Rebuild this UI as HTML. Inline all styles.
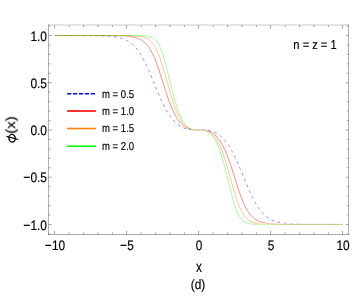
<!DOCTYPE html>
<html><head><meta charset="utf-8"><title>plot</title>
<style>
html,body{margin:0;padding:0;background:#fff;}
body{width:354px;height:300px;position:relative;overflow:hidden;font-family:"Liberation Sans",sans-serif;color:#000;}
.t{position:absolute;white-space:nowrap;line-height:1;will-change:transform;text-rendering:geometricPrecision;-webkit-text-stroke:1.8px #000;}
</style></head><body>
<svg width="354" height="300" viewBox="0 0 354 300" style="position:absolute;left:0;top:0">
<path d="M54.50 35.50 L55.22 35.50 L55.94 35.50 L56.66 35.50 L57.38 35.50 L58.10 35.50 L58.82 35.50 L59.54 35.50 L60.26 35.50 L60.98 35.50 L61.70 35.50 L62.42 35.50 L63.14 35.50 L63.86 35.50 L64.58 35.51 L65.30 35.51 L66.02 35.51 L66.74 35.51 L67.46 35.51 L68.18 35.51 L68.90 35.51 L69.62 35.51 L70.34 35.51 L71.06 35.51 L71.78 35.51 L72.50 35.51 L73.22 35.51 L73.94 35.51 L74.66 35.52 L75.38 35.52 L76.10 35.52 L76.82 35.52 L77.54 35.52 L78.26 35.52 L78.98 35.53 L79.70 35.53 L80.42 35.53 L81.14 35.53 L81.86 35.54 L82.58 35.54 L83.30 35.54 L84.02 35.54 L84.74 35.55 L85.46 35.55 L86.18 35.56 L86.90 35.56 L87.62 35.57 L88.34 35.57 L89.06 35.58 L89.78 35.59 L90.50 35.59 L91.22 35.60 L91.94 35.61 L92.66 35.62 L93.38 35.63 L94.10 35.64 L94.82 35.65 L95.54 35.66 L96.26 35.68 L96.98 35.69 L97.70 35.71 L98.42 35.73 L99.14 35.75 L99.86 35.77 L100.58 35.79 L101.30 35.81 L102.02 35.84 L102.74 35.87 L103.46 35.90 L104.18 35.93 L104.90 35.97 L105.62 36.00 L106.34 36.05 L107.06 36.09 L107.78 36.14 L108.50 36.19 L109.22 36.25 L109.94 36.31 L110.66 36.38 L111.38 36.45 L112.10 36.53 L112.82 36.62 L113.54 36.71 L114.26 36.81 L114.98 36.92 L115.70 37.03 L116.42 37.16 L117.14 37.29 L117.86 37.44 L118.58 37.60 L119.30 37.76 L120.02 37.95 L120.74 38.14 L121.46 38.36 L122.18 38.58 L122.90 38.83 L123.62 39.09 L124.34 39.38 L125.06 39.68 L125.78 40.01 L126.50 40.36 L127.22 40.73 L127.94 41.14 L128.66 41.57 L129.38 42.03 L130.10 42.52 L130.82 43.05 L131.54 43.61 L132.26 44.21 L132.98 44.84 L133.70 45.52 L134.42 46.23 L135.14 47.00 L135.86 47.80 L136.58 48.65 L137.30 49.55 L138.02 50.50 L138.74 51.49 L139.46 52.54 L140.18 53.64 L140.90 54.79 L141.62 55.99 L142.34 57.24 L143.06 58.54 L143.78 59.89 L144.50 61.28 L145.22 62.73 L145.94 64.22 L146.66 65.75 L147.38 67.32 L148.10 68.93 L148.82 70.57 L149.54 72.24 L150.26 73.94 L150.98 75.66 L151.70 77.40 L152.42 79.15 L153.14 80.91 L153.86 82.68 L154.58 84.44 L155.30 86.21 L156.02 87.96 L156.74 89.70 L157.46 91.43 L158.18 93.14 L158.90 94.82 L159.62 96.48 L160.34 98.11 L161.06 99.70 L161.78 101.26 L162.50 102.78 L163.22 104.26 L163.94 105.70 L164.66 107.09 L165.38 108.44 L166.10 109.75 L166.82 111.01 L167.54 112.22 L168.26 113.38 L168.98 114.50 L169.70 115.57 L170.42 116.59 L171.14 117.57 L171.86 118.50 L172.58 119.39 L173.30 120.23 L174.02 121.02 L174.74 121.77 L175.46 122.48 L176.18 123.15 L176.90 123.78 L177.62 124.37 L178.34 124.92 L179.06 125.43 L179.78 125.91 L180.50 126.35 L181.22 126.76 L181.94 127.14 L182.66 127.49 L183.38 127.81 L184.10 128.10 L184.82 128.36 L185.54 128.59 L186.26 128.81 L186.98 129.00 L187.70 129.16 L188.42 129.31 L189.14 129.44 L189.86 129.55 L190.58 129.64 L191.30 129.72 L192.02 129.79 L192.74 129.84 L193.46 129.88 L194.18 129.91 L194.90 129.93 L195.62 129.95 L196.34 129.96 L197.06 129.97 L197.78 129.97 L198.50 129.97 L199.22 129.97 L199.94 129.97 L200.66 129.97 L201.38 129.98 L202.10 129.99 L202.82 130.01 L203.54 130.03 L204.26 130.07 L204.98 130.11 L205.70 130.16 L206.42 130.23 L207.14 130.31 L207.86 130.41 L208.58 130.52 L209.30 130.65 L210.02 130.80 L210.74 130.97 L211.46 131.17 L212.18 131.38 L212.90 131.62 L213.62 131.89 L214.34 132.18 L215.06 132.51 L215.78 132.86 L216.50 133.24 L217.22 133.66 L217.94 134.11 L218.66 134.59 L219.38 135.11 L220.10 135.67 L220.82 136.26 L221.54 136.90 L222.26 137.57 L222.98 138.29 L223.70 139.05 L224.42 139.85 L225.14 140.70 L225.86 141.59 L226.58 142.53 L227.30 143.51 L228.02 144.54 L228.74 145.62 L229.46 146.75 L230.18 147.92 L230.90 149.14 L231.62 150.41 L232.34 151.72 L233.06 153.08 L233.78 154.48 L234.50 155.93 L235.22 157.41 L235.94 158.94 L236.66 160.50 L237.38 162.10 L238.10 163.73 L238.82 165.40 L239.54 167.08 L240.26 168.79 L240.98 170.52 L241.70 172.27 L242.42 174.03 L243.14 175.79 L243.86 177.56 L244.58 179.33 L245.30 181.09 L246.02 182.84 L246.74 184.57 L247.46 186.29 L248.18 187.98 L248.90 189.65 L249.62 191.28 L250.34 192.88 L251.06 194.45 L251.78 195.97 L252.50 197.45 L253.22 198.89 L253.94 200.28 L254.66 201.62 L255.38 202.92 L256.10 204.16 L256.82 205.35 L257.54 206.49 L258.26 207.58 L258.98 208.62 L259.70 209.60 L260.42 210.54 L261.14 211.43 L261.86 212.28 L262.58 213.07 L263.30 213.83 L264.02 214.54 L264.74 215.21 L265.46 215.84 L266.18 216.43 L266.90 216.98 L267.62 217.50 L268.34 217.99 L269.06 218.45 L269.78 218.87 L270.50 219.27 L271.22 219.64 L271.94 219.99 L272.66 220.31 L273.38 220.61 L274.10 220.89 L274.82 221.15 L275.54 221.40 L276.26 221.62 L276.98 221.83 L277.70 222.02 L278.42 222.20 L279.14 222.37 L279.86 222.53 L280.58 222.67 L281.30 222.80 L282.02 222.93 L282.74 223.04 L283.46 223.15 L284.18 223.25 L284.90 223.34 L285.62 223.42 L286.34 223.50 L287.06 223.57 L287.78 223.64 L288.50 223.70 L289.22 223.75 L289.94 223.81 L290.66 223.86 L291.38 223.90 L292.10 223.94 L292.82 223.98 L293.54 224.02 L294.26 224.05 L294.98 224.08 L295.70 224.11 L296.42 224.13 L297.14 224.16 L297.86 224.18 L298.58 224.20 L299.30 224.22 L300.02 224.23 L300.74 224.25 L301.46 224.26 L302.18 224.28 L302.90 224.29 L303.62 224.30 L304.34 224.31 L305.06 224.32 L305.78 224.33 L306.50 224.34 L307.22 224.35 L307.94 224.36 L308.66 224.36 L309.38 224.37 L310.10 224.37 L310.82 224.38 L311.54 224.38 L312.26 224.39 L312.98 224.39 L313.70 224.40 L314.42 224.40 L315.14 224.40 L315.86 224.41 L316.58 224.41 L317.30 224.41 L318.02 224.41 L318.74 224.41 L319.46 224.42 L320.18 224.42 L320.90 224.42 L321.62 224.42 L322.34 224.42 L323.06 224.42 L323.78 224.43 L324.50 224.43 L325.22 224.43 L325.94 224.43 L326.66 224.43 L327.38 224.43 L328.10 224.43 L328.82 224.43 L329.54 224.43 L330.26 224.43 L330.98 224.43 L331.70 224.43 L332.42 224.43 L333.14 224.44 L333.86 224.44 L334.58 224.44 L335.30 224.44 L336.02 224.44 L336.74 224.44 L337.46 224.44 L338.18 224.44 L338.90 224.44 L339.62 224.44 L340.34 224.44 L341.06 224.44 L341.78 224.44 L342.50 224.44" fill="none" stroke="#0000ff" stroke-width="0.46" stroke-dasharray="2.8 3.5" stroke-dashoffset="-2.8"/>
<path d="M54.50 35.50 L55.22 35.50 L55.94 35.50 L56.66 35.50 L57.38 35.50 L58.10 35.50 L58.82 35.50 L59.54 35.50 L60.26 35.50 L60.98 35.50 L61.70 35.50 L62.42 35.50 L63.14 35.50 L63.86 35.50 L64.58 35.50 L65.30 35.50 L66.02 35.50 L66.74 35.50 L67.46 35.50 L68.18 35.50 L68.90 35.50 L69.62 35.50 L70.34 35.50 L71.06 35.50 L71.78 35.50 L72.50 35.50 L73.22 35.50 L73.94 35.50 L74.66 35.50 L75.38 35.50 L76.10 35.50 L76.82 35.50 L77.54 35.50 L78.26 35.50 L78.98 35.50 L79.70 35.50 L80.42 35.50 L81.14 35.50 L81.86 35.50 L82.58 35.50 L83.30 35.50 L84.02 35.50 L84.74 35.50 L85.46 35.50 L86.18 35.50 L86.90 35.50 L87.62 35.50 L88.34 35.50 L89.06 35.50 L89.78 35.50 L90.50 35.51 L91.22 35.51 L91.94 35.51 L92.66 35.51 L93.38 35.51 L94.10 35.51 L94.82 35.51 L95.54 35.51 L96.26 35.51 L96.98 35.51 L97.70 35.51 L98.42 35.52 L99.14 35.52 L99.86 35.52 L100.58 35.52 L101.30 35.52 L102.02 35.52 L102.74 35.53 L103.46 35.53 L104.18 35.53 L104.90 35.54 L105.62 35.54 L106.34 35.54 L107.06 35.55 L107.78 35.55 L108.50 35.56 L109.22 35.56 L109.94 35.57 L110.66 35.58 L111.38 35.59 L112.10 35.59 L112.82 35.60 L113.54 35.61 L114.26 35.63 L114.98 35.64 L115.70 35.65 L116.42 35.67 L117.14 35.68 L117.86 35.70 L118.58 35.72 L119.30 35.75 L120.02 35.77 L120.74 35.80 L121.46 35.83 L122.18 35.86 L122.90 35.90 L123.62 35.94 L124.34 35.98 L125.06 36.03 L125.78 36.09 L126.50 36.15 L127.22 36.21 L127.94 36.28 L128.66 36.36 L129.38 36.45 L130.10 36.54 L130.82 36.65 L131.54 36.76 L132.26 36.89 L132.98 37.03 L133.70 37.18 L134.42 37.35 L135.14 37.54 L135.86 37.74 L136.58 37.96 L137.30 38.21 L138.02 38.47 L138.74 38.77 L139.46 39.09 L140.18 39.44 L140.90 39.83 L141.62 40.25 L142.34 40.72 L143.06 41.22 L143.78 41.77 L144.50 42.38 L145.22 43.03 L145.94 43.74 L146.66 44.52 L147.38 45.36 L148.10 46.27 L148.82 47.25 L149.54 48.31 L150.26 49.45 L150.98 50.68 L151.70 51.99 L152.42 53.40 L153.14 54.89 L153.86 56.47 L154.58 58.14 L155.30 59.91 L156.02 61.75 L156.74 63.68 L157.46 65.68 L158.18 67.75 L158.90 69.89 L159.62 72.07 L160.34 74.30 L161.06 76.56 L161.78 78.84 L162.50 81.14 L163.22 83.43 L163.94 85.72 L164.66 87.99 L165.38 90.24 L166.10 92.44 L166.82 94.61 L167.54 96.73 L168.26 98.79 L168.98 100.79 L169.70 102.72 L170.42 104.59 L171.14 106.39 L171.86 108.11 L172.58 109.76 L173.30 111.34 L174.02 112.83 L174.74 114.26 L175.46 115.60 L176.18 116.87 L176.90 118.07 L177.62 119.20 L178.34 120.25 L179.06 121.23 L179.78 122.15 L180.50 123.00 L181.22 123.79 L181.94 124.52 L182.66 125.19 L183.38 125.80 L184.10 126.35 L184.82 126.86 L185.54 127.32 L186.26 127.72 L186.98 128.09 L187.70 128.41 L188.42 128.70 L189.14 128.94 L189.86 129.16 L190.58 129.34 L191.30 129.49 L192.02 129.62 L192.74 129.72 L193.46 129.80 L194.18 129.86 L194.90 129.90 L195.62 129.93 L196.34 129.95 L197.06 129.96 L197.78 129.97 L198.50 129.97 L199.22 129.97 L199.94 129.97 L200.66 129.98 L201.38 129.99 L202.10 130.01 L202.82 130.04 L203.54 130.09 L204.26 130.16 L204.98 130.24 L205.70 130.34 L206.42 130.47 L207.14 130.63 L207.86 130.82 L208.58 131.04 L209.30 131.29 L210.02 131.58 L210.74 131.91 L211.46 132.28 L212.18 132.70 L212.90 133.16 L213.62 133.68 L214.34 134.24 L215.06 134.86 L215.78 135.54 L216.50 136.28 L217.22 137.07 L217.94 137.94 L218.66 138.87 L219.38 139.86 L220.10 140.93 L220.82 142.06 L221.54 143.27 L222.26 144.56 L222.98 145.92 L223.70 147.35 L224.42 148.86 L225.14 150.45 L225.86 152.11 L226.58 153.85 L227.30 155.65 L228.02 157.53 L228.74 159.48 L229.46 161.49 L230.18 163.56 L230.90 165.69 L231.62 167.86 L232.34 170.08 L233.06 172.32 L233.78 174.60 L234.50 176.89 L235.22 179.19 L235.94 181.48 L236.66 183.76 L237.38 186.02 L238.10 188.24 L238.82 190.41 L239.54 192.54 L240.26 194.60 L240.98 196.59 L241.70 198.50 L242.42 200.33 L243.14 202.08 L243.86 203.74 L244.58 205.31 L245.30 206.78 L246.02 208.17 L246.74 209.47 L247.46 210.68 L248.18 211.81 L248.90 212.86 L249.62 213.83 L250.34 214.73 L251.06 215.56 L251.78 216.32 L252.50 217.02 L253.22 217.67 L253.94 218.26 L254.66 218.81 L255.38 219.30 L256.10 219.76 L256.82 220.18 L257.54 220.56 L258.26 220.91 L258.98 221.22 L259.70 221.51 L260.42 221.78 L261.14 222.02 L261.86 222.24 L262.58 222.44 L263.30 222.62 L264.02 222.78 L264.74 222.93 L265.46 223.07 L266.18 223.20 L266.90 223.31 L267.62 223.41 L268.34 223.51 L269.06 223.59 L269.78 223.67 L270.50 223.74 L271.22 223.80 L271.94 223.86 L272.66 223.92 L273.38 223.96 L274.10 224.01 L274.82 224.05 L275.54 224.08 L276.26 224.12 L276.98 224.15 L277.70 224.17 L278.42 224.20 L279.14 224.22 L279.86 224.24 L280.58 224.26 L281.30 224.28 L282.02 224.29 L282.74 224.30 L283.46 224.32 L284.18 224.33 L284.90 224.34 L285.62 224.35 L286.34 224.36 L287.06 224.36 L287.78 224.37 L288.50 224.38 L289.22 224.38 L289.94 224.39 L290.66 224.39 L291.38 224.40 L292.10 224.40 L292.82 224.40 L293.54 224.41 L294.26 224.41 L294.98 224.41 L295.70 224.42 L296.42 224.42 L297.14 224.42 L297.86 224.42 L298.58 224.42 L299.30 224.43 L300.02 224.43 L300.74 224.43 L301.46 224.43 L302.18 224.43 L302.90 224.43 L303.62 224.43 L304.34 224.43 L305.06 224.43 L305.78 224.43 L306.50 224.43 L307.22 224.43 L307.94 224.44 L308.66 224.44 L309.38 224.44 L310.10 224.44 L310.82 224.44 L311.54 224.44 L312.26 224.44 L312.98 224.44 L313.70 224.44 L314.42 224.44 L315.14 224.44 L315.86 224.44 L316.58 224.44 L317.30 224.44 L318.02 224.44 L318.74 224.44 L319.46 224.44 L320.18 224.44 L320.90 224.44 L321.62 224.44 L322.34 224.44 L323.06 224.44 L323.78 224.44 L324.50 224.44 L325.22 224.44 L325.94 224.44 L326.66 224.44 L327.38 224.44 L328.10 224.44 L328.82 224.44 L329.54 224.44 L330.26 224.44 L330.98 224.44 L331.70 224.44 L332.42 224.44 L333.14 224.44 L333.86 224.44 L334.58 224.44 L335.30 224.44 L336.02 224.44 L336.74 224.44 L337.46 224.44 L338.18 224.44 L338.90 224.44 L339.62 224.44 L340.34 224.44 L341.06 224.44 L341.78 224.44 L342.50 224.44" fill="none" stroke="#ff0000" stroke-width="0.46"/>
<path d="M54.50 35.50 L55.22 35.50 L55.94 35.50 L56.66 35.50 L57.38 35.50 L58.10 35.50 L58.82 35.50 L59.54 35.50 L60.26 35.50 L60.98 35.50 L61.70 35.50 L62.42 35.50 L63.14 35.50 L63.86 35.50 L64.58 35.50 L65.30 35.50 L66.02 35.50 L66.74 35.50 L67.46 35.50 L68.18 35.50 L68.90 35.50 L69.62 35.50 L70.34 35.50 L71.06 35.50 L71.78 35.50 L72.50 35.50 L73.22 35.50 L73.94 35.50 L74.66 35.50 L75.38 35.50 L76.10 35.50 L76.82 35.50 L77.54 35.50 L78.26 35.50 L78.98 35.50 L79.70 35.50 L80.42 35.50 L81.14 35.50 L81.86 35.50 L82.58 35.50 L83.30 35.50 L84.02 35.50 L84.74 35.50 L85.46 35.50 L86.18 35.50 L86.90 35.50 L87.62 35.50 L88.34 35.50 L89.06 35.50 L89.78 35.50 L90.50 35.50 L91.22 35.50 L91.94 35.50 L92.66 35.50 L93.38 35.50 L94.10 35.50 L94.82 35.50 L95.54 35.50 L96.26 35.50 L96.98 35.50 L97.70 35.50 L98.42 35.50 L99.14 35.50 L99.86 35.50 L100.58 35.50 L101.30 35.50 L102.02 35.50 L102.74 35.50 L103.46 35.50 L104.18 35.50 L104.90 35.50 L105.62 35.50 L106.34 35.50 L107.06 35.50 L107.78 35.50 L108.50 35.50 L109.22 35.50 L109.94 35.50 L110.66 35.50 L111.38 35.50 L112.10 35.50 L112.82 35.51 L113.54 35.51 L114.26 35.51 L114.98 35.51 L115.70 35.51 L116.42 35.51 L117.14 35.51 L117.86 35.51 L118.58 35.52 L119.30 35.52 L120.02 35.52 L120.74 35.53 L121.46 35.53 L122.18 35.53 L122.90 35.54 L123.62 35.54 L124.34 35.55 L125.06 35.56 L125.78 35.57 L126.50 35.57 L127.22 35.59 L127.94 35.60 L128.66 35.61 L129.38 35.63 L130.10 35.65 L130.82 35.67 L131.54 35.69 L132.26 35.72 L132.98 35.75 L133.70 35.79 L134.42 35.83 L135.14 35.87 L135.86 35.93 L136.58 35.99 L137.30 36.05 L138.02 36.13 L138.74 36.22 L139.46 36.32 L140.18 36.44 L140.90 36.57 L141.62 36.71 L142.34 36.88 L143.06 37.07 L143.78 37.29 L144.50 37.53 L145.22 37.80 L145.94 38.11 L146.66 38.46 L147.38 38.85 L148.10 39.28 L148.82 39.77 L149.54 40.32 L150.26 40.93 L150.98 41.61 L151.70 42.36 L152.42 43.19 L153.14 44.11 L153.86 45.12 L154.58 46.22 L155.30 47.43 L156.02 48.75 L156.74 50.17 L157.46 51.70 L158.18 53.35 L158.90 55.11 L159.62 56.98 L160.34 58.96 L161.06 61.05 L161.78 63.23 L162.50 65.51 L163.22 67.86 L163.94 70.28 L164.66 72.77 L165.38 75.30 L166.10 77.86 L166.82 80.44 L167.54 83.03 L168.26 85.61 L168.98 88.16 L169.70 90.69 L170.42 93.17 L171.14 95.60 L171.86 97.96 L172.58 100.25 L173.30 102.47 L174.02 104.59 L174.74 106.63 L175.46 108.58 L176.18 110.43 L176.90 112.18 L177.62 113.84 L178.34 115.40 L179.06 116.86 L179.78 118.22 L180.50 119.49 L181.22 120.67 L181.94 121.76 L182.66 122.76 L183.38 123.68 L184.10 124.52 L184.82 125.28 L185.54 125.97 L186.26 126.58 L186.98 127.13 L187.70 127.62 L188.42 128.05 L189.14 128.42 L189.86 128.74 L190.58 129.02 L191.30 129.25 L192.02 129.43 L192.74 129.59 L193.46 129.71 L194.18 129.80 L194.90 129.87 L195.62 129.91 L196.34 129.94 L197.06 129.96 L197.78 129.97 L198.50 129.97 L199.22 129.97 L199.94 129.97 L200.66 129.98 L201.38 130.00 L202.10 130.03 L202.82 130.08 L203.54 130.15 L204.26 130.25 L204.98 130.38 L205.70 130.53 L206.42 130.73 L207.14 130.97 L207.86 131.25 L208.58 131.58 L209.30 131.96 L210.02 132.40 L210.74 132.89 L211.46 133.45 L212.18 134.08 L212.90 134.78 L213.62 135.55 L214.34 136.41 L215.06 137.34 L215.78 138.35 L216.50 139.46 L217.22 140.65 L217.94 141.94 L218.66 143.32 L219.38 144.80 L220.10 146.37 L220.82 148.04 L221.54 149.81 L222.26 151.68 L222.98 153.64 L223.70 155.69 L224.42 157.84 L225.14 160.06 L225.86 162.37 L226.58 164.74 L227.30 167.18 L228.02 169.67 L228.74 172.20 L229.46 174.76 L230.18 177.34 L230.90 179.93 L231.62 182.51 L232.34 185.07 L233.06 187.59 L233.78 190.06 L234.50 192.48 L235.22 194.82 L235.94 197.08 L236.66 199.25 L237.38 201.31 L238.10 203.28 L238.82 205.13 L239.54 206.87 L240.26 208.50 L240.98 210.02 L241.70 211.42 L242.42 212.72 L243.14 213.91 L243.86 215.00 L244.58 215.99 L245.30 216.89 L246.02 217.71 L246.74 218.45 L247.46 219.12 L248.18 219.72 L248.90 220.25 L249.62 220.73 L250.34 221.16 L251.06 221.54 L251.78 221.88 L252.50 222.19 L253.22 222.45 L253.94 222.69 L254.66 222.90 L255.38 223.09 L256.10 223.25 L256.82 223.40 L257.54 223.52 L258.26 223.64 L258.98 223.73 L259.70 223.82 L260.42 223.90 L261.14 223.96 L261.86 224.02 L262.58 224.08 L263.30 224.12 L264.02 224.16 L264.74 224.20 L265.46 224.23 L266.18 224.25 L266.90 224.28 L267.62 224.30 L268.34 224.31 L269.06 224.33 L269.78 224.34 L270.50 224.36 L271.22 224.37 L271.94 224.38 L272.66 224.38 L273.38 224.39 L274.10 224.40 L274.82 224.40 L275.54 224.41 L276.26 224.41 L276.98 224.42 L277.70 224.42 L278.42 224.42 L279.14 224.42 L279.86 224.43 L280.58 224.43 L281.30 224.43 L282.02 224.43 L282.74 224.43 L283.46 224.43 L284.18 224.43 L284.90 224.43 L285.62 224.44 L286.34 224.44 L287.06 224.44 L287.78 224.44 L288.50 224.44 L289.22 224.44 L289.94 224.44 L290.66 224.44 L291.38 224.44 L292.10 224.44 L292.82 224.44 L293.54 224.44 L294.26 224.44 L294.98 224.44 L295.70 224.44 L296.42 224.44 L297.14 224.44 L297.86 224.44 L298.58 224.44 L299.30 224.44 L300.02 224.44 L300.74 224.44 L301.46 224.44 L302.18 224.44 L302.90 224.44 L303.62 224.44 L304.34 224.44 L305.06 224.44 L305.78 224.44 L306.50 224.44 L307.22 224.44 L307.94 224.44 L308.66 224.44 L309.38 224.44 L310.10 224.44 L310.82 224.44 L311.54 224.44 L312.26 224.44 L312.98 224.44 L313.70 224.44 L314.42 224.44 L315.14 224.44 L315.86 224.44 L316.58 224.44 L317.30 224.44 L318.02 224.44 L318.74 224.44 L319.46 224.44 L320.18 224.44 L320.90 224.44 L321.62 224.44 L322.34 224.44 L323.06 224.44 L323.78 224.44 L324.50 224.44 L325.22 224.44 L325.94 224.44 L326.66 224.44 L327.38 224.44 L328.10 224.44 L328.82 224.44 L329.54 224.44 L330.26 224.44 L330.98 224.44 L331.70 224.44 L332.42 224.44 L333.14 224.44 L333.86 224.44 L334.58 224.44 L335.30 224.44 L336.02 224.44 L336.74 224.44 L337.46 224.44 L338.18 224.44 L338.90 224.44 L339.62 224.44 L340.34 224.44 L341.06 224.44 L341.78 224.44 L342.50 224.44" fill="none" stroke="#ff8000" stroke-width="0.46"/>
<path d="M54.50 35.50 L55.22 35.50 L55.94 35.50 L56.66 35.50 L57.38 35.50 L58.10 35.50 L58.82 35.50 L59.54 35.50 L60.26 35.50 L60.98 35.50 L61.70 35.50 L62.42 35.50 L63.14 35.50 L63.86 35.50 L64.58 35.50 L65.30 35.50 L66.02 35.50 L66.74 35.50 L67.46 35.50 L68.18 35.50 L68.90 35.50 L69.62 35.50 L70.34 35.50 L71.06 35.50 L71.78 35.50 L72.50 35.50 L73.22 35.50 L73.94 35.50 L74.66 35.50 L75.38 35.50 L76.10 35.50 L76.82 35.50 L77.54 35.50 L78.26 35.50 L78.98 35.50 L79.70 35.50 L80.42 35.50 L81.14 35.50 L81.86 35.50 L82.58 35.50 L83.30 35.50 L84.02 35.50 L84.74 35.50 L85.46 35.50 L86.18 35.50 L86.90 35.50 L87.62 35.50 L88.34 35.50 L89.06 35.50 L89.78 35.50 L90.50 35.50 L91.22 35.50 L91.94 35.50 L92.66 35.50 L93.38 35.50 L94.10 35.50 L94.82 35.50 L95.54 35.50 L96.26 35.50 L96.98 35.50 L97.70 35.50 L98.42 35.50 L99.14 35.50 L99.86 35.50 L100.58 35.50 L101.30 35.50 L102.02 35.50 L102.74 35.50 L103.46 35.50 L104.18 35.50 L104.90 35.50 L105.62 35.50 L106.34 35.50 L107.06 35.50 L107.78 35.50 L108.50 35.50 L109.22 35.50 L109.94 35.50 L110.66 35.50 L111.38 35.50 L112.10 35.50 L112.82 35.50 L113.54 35.50 L114.26 35.50 L114.98 35.50 L115.70 35.50 L116.42 35.50 L117.14 35.50 L117.86 35.50 L118.58 35.50 L119.30 35.50 L120.02 35.50 L120.74 35.50 L121.46 35.50 L122.18 35.50 L122.90 35.50 L123.62 35.50 L124.34 35.50 L125.06 35.50 L125.78 35.50 L126.50 35.50 L127.22 35.50 L127.94 35.50 L128.66 35.50 L129.38 35.51 L130.10 35.51 L130.82 35.51 L131.54 35.51 L132.26 35.51 L132.98 35.51 L133.70 35.52 L134.42 35.52 L135.14 35.52 L135.86 35.53 L136.58 35.54 L137.30 35.54 L138.02 35.55 L138.74 35.56 L139.46 35.58 L140.18 35.59 L140.90 35.61 L141.62 35.64 L142.34 35.66 L143.06 35.70 L143.78 35.74 L144.50 35.79 L145.22 35.85 L145.94 35.92 L146.66 36.01 L147.38 36.11 L148.10 36.24 L148.82 36.39 L149.54 36.56 L150.26 36.77 L150.98 37.03 L151.70 37.32 L152.42 37.67 L153.14 38.09 L153.86 38.57 L154.58 39.14 L155.30 39.80 L156.02 40.55 L156.74 41.43 L157.46 42.42 L158.18 43.55 L158.90 44.82 L159.62 46.24 L160.34 47.81 L161.06 49.55 L161.78 51.44 L162.50 53.49 L163.22 55.70 L163.94 58.05 L164.66 60.53 L165.38 63.14 L166.10 65.85 L166.82 68.65 L167.54 71.51 L168.26 74.43 L168.98 77.38 L169.70 80.33 L170.42 83.28 L171.14 86.20 L171.86 89.08 L172.58 91.89 L173.30 94.64 L174.02 97.30 L174.74 99.86 L175.46 102.32 L176.18 104.68 L176.90 106.92 L177.62 109.04 L178.34 111.05 L179.06 112.93 L179.78 114.69 L180.50 116.34 L181.22 117.87 L181.94 119.28 L182.66 120.58 L183.38 121.78 L184.10 122.87 L184.82 123.86 L185.54 124.75 L186.26 125.56 L186.98 126.27 L187.70 126.91 L188.42 127.47 L189.14 127.95 L189.86 128.37 L190.58 128.73 L191.30 129.03 L192.02 129.27 L192.74 129.47 L193.46 129.63 L194.18 129.75 L194.90 129.84 L195.62 129.90 L196.34 129.94 L197.06 129.96 L197.78 129.97 L198.50 129.97 L199.22 129.97 L199.94 129.97 L200.66 129.98 L201.38 130.01 L202.10 130.05 L202.82 130.12 L203.54 130.21 L204.26 130.33 L204.98 130.50 L205.70 130.71 L206.42 130.96 L207.14 131.27 L207.86 131.64 L208.58 132.07 L209.30 132.56 L210.02 133.13 L210.74 133.78 L211.46 134.51 L212.18 135.33 L212.90 136.24 L213.62 137.25 L214.34 138.35 L215.06 139.57 L215.78 140.89 L216.50 142.32 L217.22 143.87 L217.94 145.53 L218.66 147.32 L219.38 149.22 L220.10 151.24 L220.82 153.39 L221.54 155.65 L222.26 158.02 L222.98 160.50 L223.70 163.08 L224.42 165.75 L225.14 168.51 L225.86 171.34 L226.58 174.22 L227.30 177.15 L228.02 180.10 L228.74 183.05 L229.46 186.00 L230.18 188.91 L230.90 191.77 L231.62 194.55 L232.34 197.25 L233.06 199.83 L233.78 202.30 L234.50 204.62 L235.22 206.80 L235.94 208.83 L236.66 210.69 L237.38 212.40 L238.10 213.95 L238.82 215.34 L239.54 216.59 L240.26 217.69 L240.98 218.67 L241.70 219.52 L242.42 220.26 L243.14 220.90 L243.86 221.45 L244.58 221.93 L245.30 222.33 L246.02 222.67 L246.74 222.96 L247.46 223.20 L248.18 223.41 L248.90 223.58 L249.62 223.73 L250.34 223.85 L251.06 223.95 L251.78 224.03 L252.50 224.10 L253.22 224.16 L253.94 224.21 L254.66 224.25 L255.38 224.28 L256.10 224.31 L256.82 224.33 L257.54 224.35 L258.26 224.37 L258.98 224.38 L259.70 224.39 L260.42 224.40 L261.14 224.41 L261.86 224.41 L262.58 224.42 L263.30 224.42 L264.02 224.42 L264.74 224.43 L265.46 224.43 L266.18 224.43 L266.90 224.43 L267.62 224.43 L268.34 224.43 L269.06 224.44 L269.78 224.44 L270.50 224.44 L271.22 224.44 L271.94 224.44 L272.66 224.44 L273.38 224.44 L274.10 224.44 L274.82 224.44 L275.54 224.44 L276.26 224.44 L276.98 224.44 L277.70 224.44 L278.42 224.44 L279.14 224.44 L279.86 224.44 L280.58 224.44 L281.30 224.44 L282.02 224.44 L282.74 224.44 L283.46 224.44 L284.18 224.44 L284.90 224.44 L285.62 224.44 L286.34 224.44 L287.06 224.44 L287.78 224.44 L288.50 224.44 L289.22 224.44 L289.94 224.44 L290.66 224.44 L291.38 224.44 L292.10 224.44 L292.82 224.44 L293.54 224.44 L294.26 224.44 L294.98 224.44 L295.70 224.44 L296.42 224.44 L297.14 224.44 L297.86 224.44 L298.58 224.44 L299.30 224.44 L300.02 224.44 L300.74 224.44 L301.46 224.44 L302.18 224.44 L302.90 224.44 L303.62 224.44 L304.34 224.44 L305.06 224.44 L305.78 224.44 L306.50 224.44 L307.22 224.44 L307.94 224.44 L308.66 224.44 L309.38 224.44 L310.10 224.44 L310.82 224.44 L311.54 224.44 L312.26 224.44 L312.98 224.44 L313.70 224.44 L314.42 224.44 L315.14 224.44 L315.86 224.44 L316.58 224.44 L317.30 224.44 L318.02 224.44 L318.74 224.44 L319.46 224.44 L320.18 224.44 L320.90 224.44 L321.62 224.44 L322.34 224.44 L323.06 224.44 L323.78 224.44 L324.50 224.44 L325.22 224.44 L325.94 224.44 L326.66 224.44 L327.38 224.44 L328.10 224.44 L328.82 224.44 L329.54 224.44 L330.26 224.44 L330.98 224.44 L331.70 224.44 L332.42 224.44 L333.14 224.44 L333.86 224.44 L334.58 224.44 L335.30 224.44 L336.02 224.44 L336.74 224.44 L337.46 224.44 L338.18 224.44 L338.90 224.44 L339.62 224.44 L340.34 224.44 L341.06 224.44 L341.78 224.44 L342.50 224.44" fill="none" stroke="#00ff00" stroke-width="0.38"/>
<rect x="258" y="223" width="85.5" height="3" fill="#fff" fill-opacity="0.42"/>
<rect x="191" y="128.5" width="16" height="3" fill="#fff" fill-opacity="0.4"/>
<path d="M48.50 24.50 V235.00" stroke="#666" stroke-width="0.52"/>
<path d="M348.50 24.50 V235.00" stroke="#666" stroke-width="0.52"/>
<path d="M48.00 25.00 H349.00" stroke="#666" stroke-width="0.36"/>
<path d="M48.00 234.50 H349.00" stroke="#666" stroke-width="0.55"/>
<path d="M54.50 234.50 v-3.50 M54.50 25.00 v3.50 M69.20 234.50 v-2.20 M69.20 25.00 v2.20 M83.60 234.50 v-2.20 M83.60 25.00 v2.20 M98.00 234.50 v-2.20 M98.00 25.00 v2.20 M112.40 234.50 v-2.20 M112.40 25.00 v2.20 M126.50 234.50 v-3.50 M126.50 25.00 v3.50 M141.20 234.50 v-2.20 M141.20 25.00 v2.20 M155.60 234.50 v-2.20 M155.60 25.00 v2.20 M170.00 234.50 v-2.20 M170.00 25.00 v2.20 M184.40 234.50 v-2.20 M184.40 25.00 v2.20 M198.50 234.50 v-3.50 M198.50 25.00 v3.50 M213.20 234.50 v-2.20 M213.20 25.00 v2.20 M227.60 234.50 v-2.20 M227.60 25.00 v2.20 M242.00 234.50 v-2.20 M242.00 25.00 v2.20 M256.40 234.50 v-2.20 M256.40 25.00 v2.20 M270.50 234.50 v-3.50 M270.50 25.00 v3.50 M285.20 234.50 v-2.20 M285.20 25.00 v2.20 M299.60 234.50 v-2.20 M299.60 25.00 v2.20 M314.00 234.50 v-2.20 M314.00 25.00 v2.20 M328.40 234.50 v-2.20 M328.40 25.00 v2.20 M342.50 234.50 v-3.50 M342.50 25.00 v3.50 M48.50 233.89 h2.00 M348.50 233.89 h-1.60 M48.50 224.44 h3.30 M348.50 224.44 h-2.70 M48.50 214.99 h2.00 M348.50 214.99 h-1.60 M48.50 205.55 h2.00 M348.50 205.55 h-1.60 M48.50 196.10 h2.00 M348.50 196.10 h-1.60 M48.50 186.65 h2.00 M348.50 186.65 h-1.60 M48.50 177.20 h3.30 M348.50 177.20 h-2.70 M48.50 167.76 h2.00 M348.50 167.76 h-1.60 M48.50 158.31 h2.00 M348.50 158.31 h-1.60 M48.50 148.86 h2.00 M348.50 148.86 h-1.60 M48.50 139.42 h2.00 M348.50 139.42 h-1.60 M48.50 129.97 h3.30 M348.50 129.97 h-2.70 M48.50 120.52 h2.00 M348.50 120.52 h-1.60 M48.50 111.08 h2.00 M348.50 111.08 h-1.60 M48.50 101.63 h2.00 M348.50 101.63 h-1.60 M48.50 92.18 h2.00 M348.50 92.18 h-1.60 M48.50 82.73 h3.30 M348.50 82.73 h-2.70 M48.50 73.29 h2.00 M348.50 73.29 h-1.60 M48.50 63.84 h2.00 M348.50 63.84 h-1.60 M48.50 54.39 h2.00 M348.50 54.39 h-1.60 M48.50 44.95 h2.00 M348.50 44.95 h-1.60 M48.50 35.50 h3.30 M348.50 35.50 h-2.70 M48.50 26.05 h2.00 M348.50 26.05 h-1.60" fill="none" stroke="#666" stroke-width="0.6"/>
<path d="M67.1 93.70 H95.9" fill="none" stroke="#0000ff" stroke-width="1.6" stroke-dasharray="4.2 1.73"/>
<path d="M67.1 111.00 H95.9" fill="none" stroke="#ff0000" stroke-width="1.6"/>
<path d="M67.1 128.50 H95.9" fill="none" stroke="#ff8000" stroke-width="1.6"/>
<path d="M67.1 146.20 H95.9" fill="none" stroke="#00ff00" stroke-width="1.6"/>
<ellipse cx="12.1" cy="138.2" rx="3.15" ry="3.85" fill="none" stroke="#000" stroke-width="1.3" transform="rotate(-8 12.1 138.2)"/><path d="M6.5 136.4 L18.25 139.5" stroke="#000" stroke-width="1.1" fill="none"/>
</svg>
<div class="t" style="left:46.90px;top:35.70px;font-size:138.00px;transform:translate(-100%,-50%) scale(0.0865,0.1);transform-origin:100% 50%;">1.0</div>
<div class="t" style="left:46.90px;top:82.94px;font-size:138.00px;transform:translate(-100%,-50%) scale(0.0865,0.1);transform-origin:100% 50%;">0.5</div>
<div class="t" style="left:46.90px;top:130.17px;font-size:138.00px;transform:translate(-100%,-50%) scale(0.0865,0.1);transform-origin:100% 50%;">0.0</div>
<div class="t" style="left:47.20px;top:177.40px;font-size:138.00px;transform:translate(-100%,-50%) scale(0.0865,0.1);transform-origin:100% 50%;"><span style="letter-spacing:3px">−</span>0.5</div>
<div class="t" style="left:47.20px;top:224.64px;font-size:138.00px;transform:translate(-100%,-50%) scale(0.0865,0.1);transform-origin:100% 50%;"><span style="letter-spacing:3px">−</span>1.0</div>
<div class="t" style="left:54.65px;top:244.95px;font-size:138.00px;transform:translate(-50%,-50%) scale(0.0860,0.1);transform-origin:50% 50%;"><span style="letter-spacing:3px">−</span>10</div>
<div class="t" style="left:126.65px;top:244.95px;font-size:138.00px;transform:translate(-50%,-50%) scale(0.0860,0.1);transform-origin:50% 50%;"><span style="letter-spacing:3px">−</span>5</div>
<div class="t" style="left:198.65px;top:244.95px;font-size:138.00px;transform:translate(-50%,-50%) scale(0.0860,0.1);transform-origin:50% 50%;">0</div>
<div class="t" style="left:270.65px;top:244.95px;font-size:138.00px;transform:translate(-50%,-50%) scale(0.0860,0.1);transform-origin:50% 50%;">5</div>
<div class="t" style="left:342.65px;top:244.95px;font-size:138.00px;transform:translate(-50%,-50%) scale(0.0860,0.1);transform-origin:50% 50%;">10</div>
<div class="t" style="left:198.60px;top:266.75px;font-size:155.00px;transform:translate(-50%,-50%) scale(0.0760,0.1);transform-origin:50% 50%;">x</div>
<div class="t" style="left:197.50px;top:283.50px;font-size:136.00px;transform:translate(-50%,-50%) scale(0.0870,0.1);transform-origin:50% 50%;">(d)</div>
<div class="t" style="left:314.70px;top:44.20px;font-size:130.00px;transform:translate(-50%,-50%) scale(0.0855,0.1);transform-origin:50% 50%;">n = z = 1</div>
<div class="t" style="left:101.70px;top:93.60px;font-size:115.00px;transform:translate(0,-50%) scale(0.0830,0.1);transform-origin:0 50%;">m = 0.5</div>
<div class="t" style="left:101.70px;top:110.90px;font-size:115.00px;transform:translate(0,-50%) scale(0.0830,0.1);transform-origin:0 50%;">m = 1.0</div>
<div class="t" style="left:101.70px;top:128.40px;font-size:115.00px;transform:translate(0,-50%) scale(0.0830,0.1);transform-origin:0 50%;">m = 1.5</div>
<div class="t" style="left:101.70px;top:146.10px;font-size:115.00px;transform:translate(0,-50%) scale(0.0830,0.1);transform-origin:0 50%;">m = 2.0</div>
<div class="t" style="left:10.2px;top:125.0px;font-size:150px;transform:translate(-50%,-50%) rotate(-90deg) scale(0.1,0.092);">(x)</div>
</body></html>
